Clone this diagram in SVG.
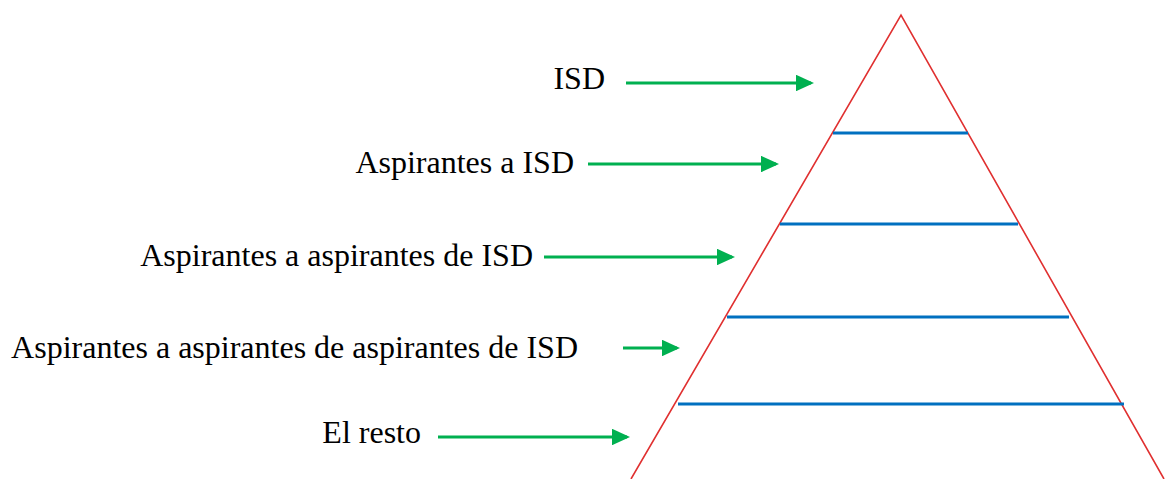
<svg xmlns="http://www.w3.org/2000/svg" width="1166" height="479" viewBox="0 0 1166 479">
<style>
.t{font-family:"Liberation Serif","Times New Roman",serif;font-size:32px;fill:#000;text-anchor:end}
.a{stroke:#00B050;stroke-width:3;fill:none}
.b{stroke:#0070C0;stroke-width:3}
</style>
<defs>
<marker id="ah" markerWidth="6" markerHeight="5.5" refX="5" refY="2.75" orient="auto" markerUnits="strokeWidth">
<path d="M0,0 L6,2.75 L0,5.5 Z" fill="#00B050"/>
</marker>
</defs>
<rect width="1166" height="479" fill="#fff"/>
<g id="pyramid">
<polyline points="631,479 901,15 1164,479" fill="none" stroke="#E03030" stroke-width="1.6"/>
<line class="b" x1="833" y1="133" x2="968" y2="133"/>
<line class="b" x1="780" y1="224" x2="1018" y2="224"/>
<line class="b" x1="727" y1="317" x2="1069" y2="317"/>
<line class="b" x1="678" y1="404" x2="1124" y2="404"/>
</g>
<g id="label-isd"><text class="t" x="605" y="89">ISD</text></g>
<g id="label-asp"><text class="t" x="574" y="173">Aspirantes a ISD</text></g>
<g id="label-asp2"><text class="t" x="533" y="266">Aspirantes a aspirantes de ISD</text></g>
<g id="label-asp3"><text class="t" x="578" y="358">Aspirantes a aspirantes de aspirantes de ISD</text></g>
<g id="label-resto"><text class="t" x="421" y="443">El resto</text></g>
<g id="connectors">
<line class="a" x1="626" y1="83" x2="811" y2="83" marker-end="url(#ah)"/>
<line class="a" x1="588" y1="164" x2="776" y2="164" marker-end="url(#ah)"/>
<line class="a" x1="544" y1="257" x2="732" y2="257" marker-end="url(#ah)"/>
<line class="a" x1="623" y1="348" x2="677" y2="348" marker-end="url(#ah)"/>
<line class="a" x1="438" y1="437" x2="627" y2="437" marker-end="url(#ah)"/>
</g>
</svg>
